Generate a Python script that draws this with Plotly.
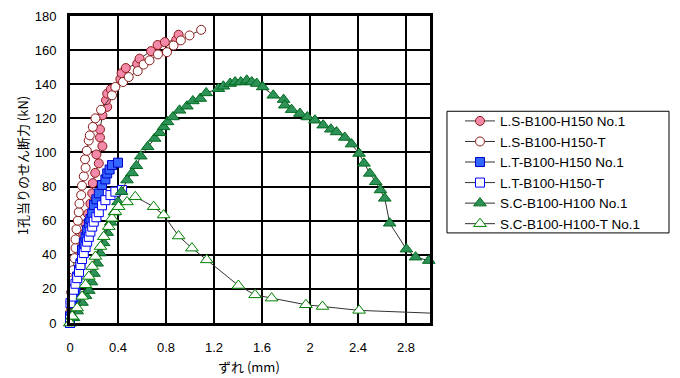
import plotly.graph_objects as go

# ---- data ----
ls1_x = [0, 0.01, 0.02, 0.03, 0.05, 0.07, 0.09, 0.11, 0.13, 0.15, 0.17, 0.185, 0.19, 0.21, 0.24, 0.22, 0.27, 0.25, 0.25, 0.27, 0.31, 0.30, 0.31, 0.34, 0.42, 0.43, 0.465, 0.56, 0.58, 0.675, 0.73, 0.79, 0.885, 0.905]
ls1_y = [0, 8, 15, 22, 30, 38, 45, 52, 58, 64, 70, 76, 82, 88, 93.6, 98.8, 103.7, 108.8, 113.5, 121.8, 126.7, 130.6, 134.5, 137, 143, 146.5, 149.5, 152, 155, 159.4, 163, 164.7, 166, 169]

lst_x = [0, 0, 0.005, 0.01, 0.02, 0.027, 0.037, 0.046, 0.046, 0.054, 0.065, 0.073, 0.079, 0.093, 0.1, 0.115, 0.13, 0.125, 0.14, 0.156, 0.165, 0.19, 0.212, 0.259, 0.35, 0.378, 0.442, 0.489, 0.564, 0.613, 0.663, 0.733, 0.808, 0.863, 0.924, 0.996, 1.093]
lst_y = [0, 6, 12, 18, 25, 31, 38, 44, 49, 55, 60, 65, 70, 75, 80.5, 86, 91, 96, 101, 107, 110, 115, 120, 125, 133.5, 138.4, 141.3, 144.2, 147.7, 151.5, 154, 157.5, 158.8, 162.7, 165.7, 168.6, 171.9]

lt1_x = [0, 0, 0.018, 0.03, 0.046, 0.06, 0.075, 0.087, 0.1, 0.115, 0.129, 0.143, 0.157, 0.17, 0.185, 0.2, 0.22, 0.24, 0.267, 0.295, 0.31, 0.33, 0.35, 0.4]
lt1_y = [0, 3.9, 11.7, 15, 19.5, 27.3, 31, 35, 42.9, 47, 50.6, 54.5, 58.5, 61, 64.3, 69.2, 72.5, 76, 80.9, 84.2, 87.7, 90, 92.6, 94]

ltt_x = [0, 0, 0.004, 0.018, 0.032, 0.046, 0.06, 0.075, 0.087, 0.1, 0.115, 0.13, 0.143, 0.157, 0.17, 0.185, 0.198, 0.22, 0.24, 0.267, 0.295, 0.337, 0.378, 0.434]
ltt_y = [0, 2, 11.7, 15.5, 19.5, 23, 26.3, 30, 34, 37.5, 41, 44.5, 47.7, 50.5, 53.6, 56.5, 59.4, 62, 65, 69, 72, 75, 77, 78]

sc1_x = [0, 0.03, 0.06, 0.1, 0.13, 0.157, 0.18, 0.2, 0.226, 0.25, 0.28, 0.31, 0.34, 0.37, 0.4, 0.43, 0.475, 0.517, 0.553, 0.59, 0.647, 0.705, 0.747, 0.78, 0.813, 0.858, 0.913, 0.974, 1.024, 1.085, 1.135, 1.237, 1.278, 1.334, 1.376, 1.423, 1.473, 1.515, 1.556, 1.606, 1.694, 1.78, 1.79, 1.847, 1.916, 1.977, 2.041, 2.11, 2.174, 2.221, 2.29, 2.346, 2.409, 2.45, 2.498, 2.548, 2.587, 2.623, 2.664, 2.803, 2.88, 2.99]
sc1_y = [0, 3, 7, 12, 16, 19, 24, 29, 35, 41, 47, 53, 59, 65, 71, 77, 83.8, 88, 92.2, 97.8, 103.3, 108.2, 111.5, 115, 117.9, 120.8, 124.7, 127.1, 130.2, 131.6, 134.9, 137.4, 138.8, 140.4, 141.3, 141.3, 142.3, 141.3, 140.4, 138.4, 133.5, 131, 127.7, 125.1, 122.8, 120.8, 118.9, 116, 113.6, 112, 108.8, 104.9, 99.4, 93.6, 87.7, 82.8, 78, 73.1, 58.5, 43.3, 38.6, 36.6]
sc1_tail_x = [2.99, 3.1]
sc1_tail_y = [36.6, 35.5]

sct_x = [0, 0.018, 0.06, 0.101, 0.129, 0.157, 0.185, 0.212, 0.254, 0.281, 0.323, 0.35, 0.378, 0.405, 0.475, 0.544, 0.697, 0.78, 0.905, 1.016, 1.14, 1.403, 1.542, 1.68, 1.966, 2.104, 2.409]
sct_y = [0, 3.9, 8.8, 15.6, 22.4, 27.3, 33.1, 39, 44.8, 50.6, 56.5, 61.4, 65.3, 68.2, 71, 74, 68.2, 63.3, 51, 43.9, 37, 22, 16.5, 14.6, 10.7, 9.7, 7.4]
sct_tail_x = [2.409, 3.3]
sct_tail_y = [7.4, 5.0]

x_ticks = [0, 0.4, 0.8, 1.2, 1.6, 2, 2.4, 2.8]
y_ticks = [0, 20, 40, 60, 80, 100, 120, 140, 160, 180]

x_title = "ずれ (mm)"
y_title = "1孔当りのせん断力 (kN)"

LINE = dict(color="#333333", width=1)
TICKFONT = dict(family="Liberation Sans, Arial", size=13, color="black")
TITLEFONT = dict(family="Noto Sans CJK JP", size=13, color="black")

fig = go.Figure()

def add(name, x, y, symbol, size, fill, edge):
    fig.add_trace(go.Scatter(
        x=x, y=y, name=name, mode="lines+markers", cliponaxis=False,
        line=LINE,
        marker=dict(symbol=symbol, size=size, color=fill, line=dict(color=edge, width=1)),
    ))

# tails (line only, clipped at the plot edge)
for tx, ty in [(sc1_tail_x, sc1_tail_y), (sct_tail_x, sct_tail_y)]:
    fig.add_trace(go.Scatter(x=tx, y=ty, mode="lines", line=LINE, showlegend=False, hoverinfo="skip"))

add("L.S-B100-H150 No.1", ls1_x, ls1_y, "circle", 9, "#F48AAA", "#8B1A1A")
add("L.S-B100-H150-T", lst_x, lst_y, "circle", 9, "#FFFFFF", "#8B1A1A")
add("L.T-B100-H150 No.1", lt1_x, lt1_y, "square", 9, "#3366FF", "#0000CC")
add("L.T-B100-H150-T", ltt_x, ltt_y, "square", 9, "#FFFFFF", "#0000FF")
add("S.C-B100-H100 No.1", sc1_x, sc1_y, "triangle-up", 11, "#2E9157", "#006B1E")
add("S.C-B100-H100-T No.1", sct_x, sct_y, "triangle-up", 11, "#FFFFFF", "#008000")

axis_common = dict(
    showgrid=True, gridcolor="black", gridwidth=1.5,
    showline=True, linecolor="black", linewidth=3, mirror=True,
    zeroline=False, ticks="", tickfont=TICKFONT, automargin=False,
)

fig.update_xaxes(range=[0, 3.0], tickvals=x_ticks, ticktext=[str(v) for v in x_ticks],
                 ticklabelstandoff=10, **axis_common)
fig.update_yaxes(range=[0, 180], tickvals=y_ticks, ticklabelstandoff=8, **axis_common)

fig.add_annotation(text=x_title, xref="paper", yref="paper", x=0.497, y=-0.142,
                   xanchor="center", yanchor="middle", showarrow=False, font=TITLEFONT)
fig.add_annotation(text=y_title, xref="paper", yref="paper", x=-0.133, y=0.514,
                   xanchor="center", yanchor="middle", textangle=-90, showarrow=False, font=TITLEFONT)

# legend frame
fig.add_shape(type="rect", xref="paper", yref="paper", x0=1.0472, x1=1.6639, y0=0.2934, y1=0.6897,
              line=dict(color="black", width=1), fillcolor="rgba(0,0,0,0)")

fig.update_layout(
    width=680, height=378,
    margin=dict(l=70, r=250, t=16, b=55),
    paper_bgcolor="white", plot_bgcolor="white",
    showlegend=True,
    legend=dict(x=1.0833, y=0.708, xanchor="left", yanchor="top",
                borderwidth=0, bgcolor="rgba(0,0,0,0)",
                font=dict(family="Liberation Sans, Arial", size=13.5, color="black"),
                tracegroupgap=0, itemwidth=30),
    font=dict(family="Liberation Sans, Arial"),
)

fig.write_html("out.html", config={"displayModeBar": False},
               post_script="document.body.style.margin='0px';document.body.style.overflow='hidden';")
